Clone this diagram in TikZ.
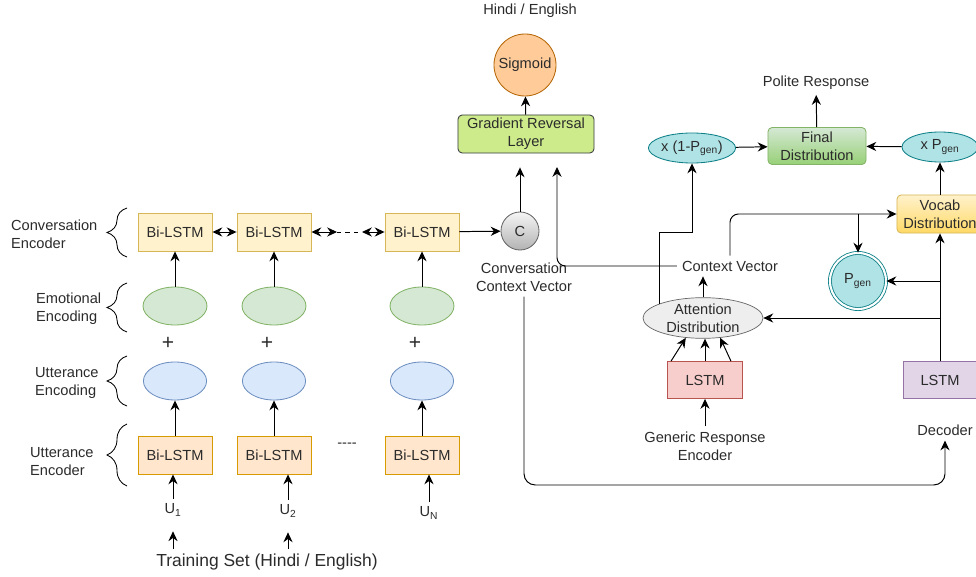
\documentclass[tikz,border=0pt]{standalone}
\usepackage{fontspec}
\setmainfont{Liberation Sans}
\usetikzlibrary{arrows.meta,shapes.geometric,decorations.pathreplacing}

\definecolor{txtgray}{HTML}{2B2B2B}
\definecolor{convfill}{HTML}{FFF2CC}
\definecolor{convline}{HTML}{D6B656}
\definecolor{uttfill}{HTML}{FFE6CC}
\definecolor{uttline}{HTML}{D79B00}
\definecolor{emofill}{HTML}{D5E8D4}
\definecolor{emoline}{HTML}{82B366}
\definecolor{encfill}{HTML}{DAE8FC}
\definecolor{encline}{HTML}{6C8EBF}
\definecolor{sigfill}{HTML}{FFCC99}
\definecolor{sigline}{HTML}{B46504}
\definecolor{grlfill}{HTML}{CDEB8B}
\definecolor{darkline}{HTML}{36393D}
\definecolor{finaltop}{HTML}{D5E8D4}
\definecolor{finalbot}{HTML}{97D077}
\definecolor{tealfill}{HTML}{B0E3E6}
\definecolor{tealline}{HTML}{0E8088}
\definecolor{vocabbot}{HTML}{FFD966}
\definecolor{attnfill}{HTML}{EEEEEE}
\definecolor{grayline}{HTML}{666666}
\definecolor{lencfill}{HTML}{F8CECC}
\definecolor{lencline}{HTML}{B85450}
\definecolor{ldecfill}{HTML}{E1D5E7}
\definecolor{ldecline}{HTML}{9673A6}
\definecolor{ctop}{HTML}{F5F5F5}
\definecolor{cbot}{HTML}{B3B3B3}

\begin{document}
\begin{tikzpicture}[x=0.025cm,y=-0.025cm,
    font=\fontsize{10.4}{12.8}\selectfont,
    >={Stealth[length=7pt,width=6.5pt]},
    every node/.style={text=txtgray},
    every path/.style={line width=0.7pt},
    convbox/.style={draw=convline,fill=convfill,line width=0.6pt,minimum width=1.85cm,minimum height=0.95cm,inner sep=0pt},
    uttbox/.style={draw=uttline,fill=uttfill,line width=0.6pt,minimum width=1.85cm,minimum height=0.95cm,inner sep=0pt},
    emoell/.style={ellipse,draw=emoline,fill=emofill,line width=0.6pt,minimum width=1.6cm,minimum height=0.95cm},
    encell/.style={ellipse,draw=encline,fill=encfill,line width=0.6pt,minimum width=1.58cm,minimum height=0.95cm},
    tealell/.style={ellipse,draw=tealline,fill=tealfill,line width=0.6pt,minimum width=1.9cm,minimum height=0.75cm,inner sep=0pt},
    plussign/.style={font=\fontsize{15}{15}\selectfont},
    sidelabel/.style={anchor=west,align=left},
    sidebrace/.style={decorate,decoration={brace,amplitude=0.5cm},line width=0.6pt}]
  \useasboundingbox (0,0) rectangle (976,577);

  \node (hindi) at (530,11) {Hindi / English};
  \node[circle,draw=sigline,fill=sigfill,line width=0.6pt,minimum size=1.55cm,inner sep=0pt] (sigmoid) at (525,65) {Sigmoid};
  \node[draw=darkline,fill=grlfill,rounded corners=3pt,line width=0.6pt,minimum width=3.4cm,minimum height=0.95cm,inner sep=0pt,align=center] (grl) at (526,134) {Gradient Reversal\\Layer};
  \node[circle,draw=grayline,top color=ctop,bottom color=cbot,line width=0.6pt,minimum size=0.95cm,inner sep=0pt] (cvec) at (520,231) {C};
  \node[align=center] (convctx) at (524,277) {Conversation\\Context Vector};

  \node[sidelabel] (convenc) at (6,234) {Conversation\\Encoder};
  \node[sidelabel] (emoenc) at (31,309) {Emotional\\Encoding};
  \node[sidelabel] (uttenc) at (30,383) {Utterance\\Encoding};
  \node[sidelabel] (uttencr) at (25,462) {Utterance\\Encoder};
  \draw[sidebrace] (127,257) -- (127,208);
  \draw[sidebrace] (127,332) -- (127,283);
  \draw[sidebrace] (127,406) -- (127,356);
  \draw[sidebrace] (127,486) -- (127,424);

  \node[convbox] (cb1) at (175,232) {Bi-LSTM};
  \node[convbox] (cb2) at (274,232) {Bi-LSTM};
  \node[convbox] (cb3) at (422,232) {Bi-LSTM};
  \coordinate (dl) at (337,232);
  \coordinate (dr) at (362,232);

  \node[emoell] (em1) at (175,306) {};
  \node[emoell] (em2) at (274,306) {};
  \node[emoell] (em3) at (422,306) {};
  \node[plussign] (plus1) at (168,343) {+};
  \node[plussign] (plus2) at (267,343) {+};
  \node[plussign] (plus3) at (415,343) {+};
  \node[encell] (en1) at (175,381) {};
  \node[encell] (en2) at (274,381) {};
  \node[encell] (en3) at (422,381) {};

  \node[uttbox] (ub1) at (175,455) {Bi-LSTM};
  \node[uttbox] (ub2) at (274,455) {Bi-LSTM};
  \node[uttbox] (ub3) at (422,455) {Bi-LSTM};
  \node (udots) at (347,445) {-{}-{}-{}-};
  \node (u1) at (173,510) {U\textsubscript{1}};
  \node (u2) at (288,511) {U\textsubscript{2}};
  \node (un) at (429,513) {U\textsubscript{N}};
  \node[font=\fontsize{12.4}{14}\selectfont] (train) at (267,562) {Training Set (Hindi / English)};

  \node (polite) at (816,83) {Polite Response};
  \node[draw=emoline,top color=finaltop,bottom color=finalbot,rounded corners=3pt,line width=0.6pt,minimum width=2.45cm,minimum height=0.925cm,inner sep=0pt,align=center] (final) at (817,146) {Final\\Distribution};
  \node[tealell] (x1pg) at (692,148) {x (1-P\textsubscript{gen})};
  \node[tealell] (xpg) at (940,147) {x P\textsubscript{gen}};
  \node[draw=convline,top color=convfill,bottom color=vocabbot,rounded corners=3pt,line width=0.6pt,minimum width=2.15cm,minimum height=0.95cm,inner sep=0pt,align=center] (vocab) at (940,214) {Vocab\\Distribution};
  \node[circle,double,double distance=1.5pt,draw=tealline,fill=tealfill,line width=0.6pt,minimum size=1.4cm,inner sep=0pt] (pgen) at (858,281) {P\textsubscript{gen}};
  \node (ctxvec) at (730,266) {Context Vector};
  \node[ellipse,draw=grayline,fill=attnfill,line width=0.5pt,minimum width=3cm,minimum height=0.925cm,inner sep=0pt,align=center] (attn) at (703,318) {Attention\\Distribution};
  \node[draw=lencline,fill=lencfill,line width=0.6pt,minimum width=1.875cm,minimum height=0.925cm,inner sep=0pt] (lenc) at (705,380) {LSTM};
  \node[align=center] (generic) at (705,446) {Generic Response\\Encoder};
  \node[draw=ldecline,fill=ldecfill,line width=0.6pt,minimum width=1.85cm,minimum height=0.925cm,inner sep=0pt] (ldec) at (940,380) {LSTM};
  \node (decoder) at (945,430) {Decoder};
  \coordinate (grlin) at (557,153);
  \coordinate (tojunc) at (692,232);
  \coordinate (dbase) at (945,485);

  \draw[<->] (cb1) -- (cb2);
  \draw[<->] (cb2) -- (dl);
  \draw[dashed] (dl) -- (dr);
  \draw[<->] (dr) -- (cb3);
  \draw[->] (cb3) -- (cvec);
  \draw[->] (em1) -- (cb1);
  \draw[->] (em2) -- (cb2);
  \draw[->] (em3) -- (cb3);
  \draw[->] (ub1) -- (en1);
  \draw[->] (ub2) -- (en2);
  \draw[->] (ub3) -- (en3);
  \draw[->] (u1.north) -- (u1.north |- ub1.south);
  \draw[->] (u2.north) -- (u2.north |- ub2.south);
  \draw[->] (un.north) -- (un.north |- ub3.south);
  \draw[->,shorten >=0.25cm] (train.north -| u1) -- (u1.south);
  \draw[->,shorten >=0.25cm] (train.north -| u2) -- (u2.south);

  \draw[->] (grl) -- (sigmoid);
  \draw[->,shorten >=0.35cm] (cvec) -- (cvec |- grl.south);
  \draw[->,rounded corners=6pt,shorten >=0.35cm] (ctxvec.west) -| (grlin);
  \draw[->,rounded corners=8pt] (convctx.south) |- (dbase) -- (decoder.south);

  \draw[->] (final) -- (polite);
  \draw[->] (x1pg) -- (final);
  \draw[->] (xpg) -- (final);
  \draw[->] (vocab) -- (xpg);
  \draw[->] (ldec) -- (vocab);
  \draw[->] (pgen -| ldec) -- (pgen);
  \draw[->] (attn -| ldec) -- (attn);
  \draw[->,rounded corners=6pt] (ctxvec.north) |- (vocab.west);
  \draw[->] (pgen.north |- vocab.west) -- (pgen.north);
  \draw[->] (attn.north) -- (attn.north |- ctxvec.south);
  \draw[->] (attn.162) |- (tojunc) -- (x1pg);
  \draw[->] ([xshift=0.1cm]lenc.north west) -- (attn.229);
  \draw[->] (lenc.north) -- (lenc.north |- attn.south);
  \draw[->] ([xshift=-0.3cm]lenc.north east) -- (attn.311);
  \draw[->] (generic.north) -- (lenc.south);
\end{tikzpicture}
\end{document}
